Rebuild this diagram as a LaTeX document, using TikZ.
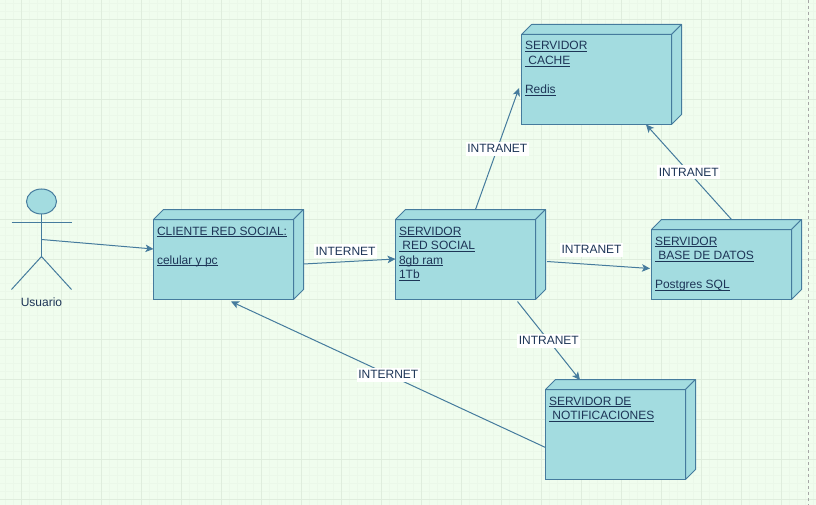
\documentclass[tikz,border=0pt]{standalone}
\usepackage{fontspec}
\setmainfont{Liberation Sans}
\usetikzlibrary{shapes.geometric, arrows.meta, positioning, calc}

\definecolor{bgpage}{HTML}{F0FDEE}
\definecolor{gridminor}{HTML}{EBF8E9}
\definecolor{gridmajor}{HTML}{DFEDDD}
\definecolor{cubefill}{HTML}{A3DCE0}
\definecolor{cubeline}{HTML}{457B9D}
\definecolor{inktext}{HTML}{1D3557}

\newcommand{\ultext}[1]{$\underline{\smash{\hbox{#1}}}$}
\newcommand{\cubetext}[3]{\parbox[c][#2pt][t]{#1pt}{\raggedright\rule{0pt}{15.5pt}#3}}

\begin{document}
\begin{tikzpicture}[
    x=1pt, y=-1pt,
    cube/.style = {rectangle, draw=cubeline, fill=cubefill, line width=1pt, outer sep=0pt, inner xsep=3.5pt, inner ysep=0pt, text=inktext, font=\fontsize{12}{14.5}\selectfont},
    side/.style = {draw=cubeline, fill=cubefill, line width=1pt, line join=round},
    limb/.style = {draw=cubeline, line width=1pt},
    line/.style = {draw=cubeline, line width=1pt, -{Stealth[length=8pt, width=7.5pt, inset=2pt]}},
    netlabel/.style = {fill=white, text=inktext, inner xsep=1.5pt, inner ysep=0pt, minimum height=14pt, font=\fontsize{12}{14}\selectfont}
]
    \useasboundingbox (0,0) rectangle (816,505);
    \fill [bgpage] (0,0) rectangle (816,505);

    % Grid
    \foreach \x in {5.5,13.5,...,816} \draw [gridminor, line width=1pt] (\x,0) -- (\x,505);
    \foreach \y in {3.5,11.5,...,505} \draw [gridminor, line width=1pt] (0,\y) -- (816,\y);
    \foreach \x in {21.5,61.5,...,816} \draw [gridmajor, line width=1pt] (\x,0) -- (\x,505);
    \foreach \y in {19.5,59.5,...,505} \draw [gridmajor, line width=1pt] (0,\y) -- (816,\y);
    \draw [gray!70, dashed, line width=.8pt] (808.5,0) -- (808.5,505);

    % Nodes - Cubes
    \node (client) [cube] at (223.5,259.5) {\cubetext{133}{80}{\ultext{CLIENTE RED SOCIAL:}\\[14.5pt]\ultext{celular y pc}}};
    \node (social) [cube] at (465.5,259.5) {\cubetext{133}{80}{\ultext{SERVIDOR}\\\ultext{\ RED SOCIAL}\\\ultext{8gb ram}\\\ultext{1Tb}}};
    \node (cache) [cube] at (596.5,79.5) {\cubetext{143}{90}{\ultext{SERVIDOR}\\\ultext{\ CACHE}\\[14.5pt]\ultext{Redis}}};
    \node (datos) [cube] at (721.5,264.5) {\cubetext{133}{70}{\ultext{SERVIDOR}\\\ultext{\ BASE DE DATOS}\\[14.5pt]\ultext{Postgres SQL}}};
    \node (notif) [cube] at (615.5,434.5) {\cubetext{133}{90}{\ultext{SERVIDOR DE}\\\ultext{\ NOTIFICACIONES}}};

    \foreach \n in {client,social,cache,datos,notif} {
        \path [side] (\n.north west) -- ++(10,-10) -- ([shift={(10,-10)}]\n.north east) -- (\n.north east) -- cycle;
        \path [side] (\n.north east) -- ([shift={(10,-10)}]\n.north east) -- ([shift={(10,-10)}]\n.south east) -- (\n.south east) -- cycle;
    }

    % Actor
    \node (head) [ellipse, draw=cubeline, fill=cubefill, line width=1pt, outer sep=0pt, minimum width=30pt, minimum height=25pt, inner sep=0pt] at (41.5,201.5) {};
    \coordinate (hip) at ($(head.south)+(0,42.5)$);
    \coordinate (waist) at ($(head.south)+(0,25.5)$);
    \path [limb] (head.south) -- (hip);
    \path [limb] ($(head.south)+(-30,8.5)$) -- ($(head.south)+(30,8.5)$);
    \path [limb] ($(hip)+(-30,33)$) -- (hip) -- ($(hip)+(30,33)$);
    \node (usuario) [text=inktext, inner sep=0pt, font=\fontsize{12}{14}\selectfont, below=41pt of hip] {Usuario};

    % Edges
    \path [line] (waist) -- ([shift={(0,-10.5)}]client.west);
    \path [line] ([shift={(10,4.5)}]client.east) -- node [netlabel, xshift=-4pt, yshift=10.5pt] {INTERNET} ([shift={(0,-0.5)}]social.west);
    \path [line] ([shift={(10,-10)}]social.north) -- node [netlabel] {INTRANET} ([shift={(-2.5,8.5)}]cache.west);
    \path [line] ([shift={(10,-10)}]datos.north) -- node [netlabel] {INTRANET} ([shift={(49.5,0)}]cache.south);
    \path [line] ([shift={(11.5,2)}]social.east) -- node [netlabel, xshift=-7pt, yshift=15.5pt] {INTRANET} ([shift={(-1.5,4)}]datos.west);
    \path [line] ([shift={(52,2)}]social.south) -- node [netlabel] {INTRANET} ([shift={(-35.5,-9.5)}]notif.north);
    \path [line] ([shift={(0,13)}]notif.west) -- node [netlabel] {INTERNET} ([shift={(7.5,2)}]client.south);

\end{tikzpicture}
\end{document}
